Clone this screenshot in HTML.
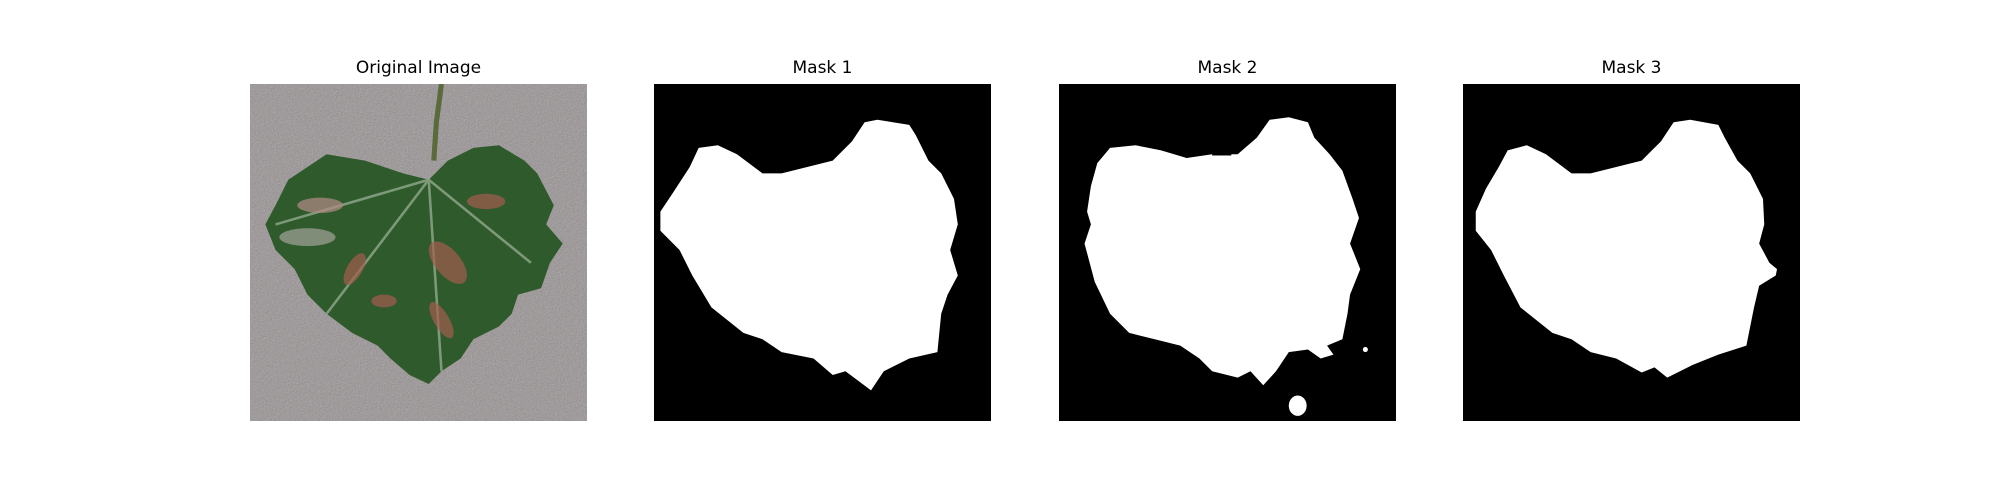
<!DOCTYPE html>
<html><head><meta charset="utf-8"><style>
body{margin:0;background:#fff;width:2000px;height:500px;overflow:hidden;font-family:"DejaVu Sans","Liberation Sans",sans-serif;}
.ax{position:absolute;top:84px;width:337px;height:337px;}
.t{position:absolute;top:58px;width:337px;text-align:center;font-size:17px;color:#000;}
</style></head><body>
<div class="t" style="left:250px">Original Image</div>
<div class="t" style="left:654px">Mask 1</div>
<div class="t" style="left:1059px">Mask 2</div>
<div class="t" style="left:1463px">Mask 3</div>

<svg class="ax" style="left:250px" viewBox="0 0 264 264" preserveAspectRatio="none">
<defs><filter id="n"><feTurbulence type="fractalNoise" baseFrequency="0.9" numOctaves="2"/><feColorMatrix type="matrix" values="0 0 0 0 0.55 0 0 0 0 0.52 0 0 0 0 0.52 0.6 0.6 0.6 0 -0.4"/></filter></defs>
<rect width="264" height="264" fill="#8c8788"/>
<rect width="264" height="264" filter="url(#n)" opacity="0.7"/>
<path d="M150 0 L146 30 L144 60" stroke="#5a6a3a" stroke-width="4" fill="none"/>
<path d="M30 75 L60 55 L90 60 L120 70 L140 75 L155 60 L175 50 L195 48 L215 60 L225 70 L238 95 L232 110 L245 125 L235 140 L228 160 L210 165 L205 180 L195 190 L175 200 L165 215 L150 225 L140 235 L125 228 L110 215 L100 205 L80 195 L60 180 L45 165 L35 145 L20 130 L12 110 L20 95 Z" fill="#2f5a2c"/>
<path d="M20 110 L140 75 M140 75 L150 225 M140 75 L220 140 M140 75 L60 180" stroke="#9fb59a" stroke-width="2" opacity="0.7"/>
<ellipse cx="155" cy="140" rx="20" ry="10" fill="#a25c4f" opacity="0.7" transform="rotate(50 155 140)"/>
<ellipse cx="185" cy="92" rx="15" ry="6" fill="#a25c4f" opacity="0.7"/>
<ellipse cx="82" cy="145" rx="14" ry="6" fill="#a25c4f" opacity="0.7" transform="rotate(-60 82 145)"/>
<ellipse cx="55" cy="95" rx="18" ry="6" fill="#b38a86" opacity="0.7"/>
<ellipse cx="45" cy="120" rx="22" ry="7" fill="#b8b0ad" opacity="0.6"/>
<ellipse cx="150" cy="185" rx="16" ry="6" fill="#a25c4f" opacity="0.7" transform="rotate(60 150 185)"/>
<ellipse cx="105" cy="170" rx="10" ry="5" fill="#a25c4f" opacity="0.7"/>
</svg>

<svg class="ax" style="left:654px" viewBox="0 0 264 264" preserveAspectRatio="none">
<rect width="264" height="264" fill="#000"/>
<path d="M165 30 L175 28 L200 32 L205 40 L215 60 L225 70 L235 90 L238 110 L232 130 L238 150 L230 165 L225 180 L222 210 L200 215 L180 225 L170 240 L150 225 L140 228 L125 215 L100 210 L85 200 L70 195 L45 175 L30 150 L20 130 L5 115 L5 100 L15 85 L28 65 L35 50 L50 48 L65 55 L85 70 L100 70 L120 65 L140 60 L155 45 Z" fill="#fff"/>
</svg>

<svg class="ax" style="left:1059px" viewBox="0 0 264 264" preserveAspectRatio="none">
<rect width="264" height="264" fill="#000"/>
<path d="M165 28 L180 26 L195 30 L200 42 L212 55 L222 68 L230 90 L235 105 L228 125 L236 145 L228 165 L226 180 L222 200 L210 205 L215 212 L205 215 L195 208 L180 210 L170 225 L160 236 L150 225 L140 230 L120 225 L110 215 L95 205 L75 200 L55 195 L40 180 L28 155 L20 125 L25 110 L22 100 L25 80 L30 62 L40 50 L60 48 L80 52 L100 58 L120 55 L140 55 L155 42 Z" fill="#fff"/>
<rect x="120" y="50" width="15" height="6" fill="#000"/>
<ellipse cx="187" cy="252" rx="7" ry="8" fill="#fff"/>
<circle cx="240" cy="208" r="2" fill="#fff"/>
</svg>

<svg class="ax" style="left:1463px" viewBox="0 0 264 264" preserveAspectRatio="none">
<rect width="264" height="264" fill="#000"/>
<path d="M165 30 L178 28 L200 32 L205 42 L215 60 L225 70 L235 90 L236 110 L232 125 L240 140 L246 145 L245 150 L232 158 L228 175 L222 205 L200 212 L180 220 L160 230 L150 222 L140 226 L120 215 L100 210 L85 200 L70 195 L45 175 L32 150 L22 130 L10 115 L10 100 L18 82 L28 65 L35 52 L50 48 L65 55 L85 70 L100 70 L120 65 L140 60 L155 45 Z" fill="#fff"/>
</svg>
</body></html>
